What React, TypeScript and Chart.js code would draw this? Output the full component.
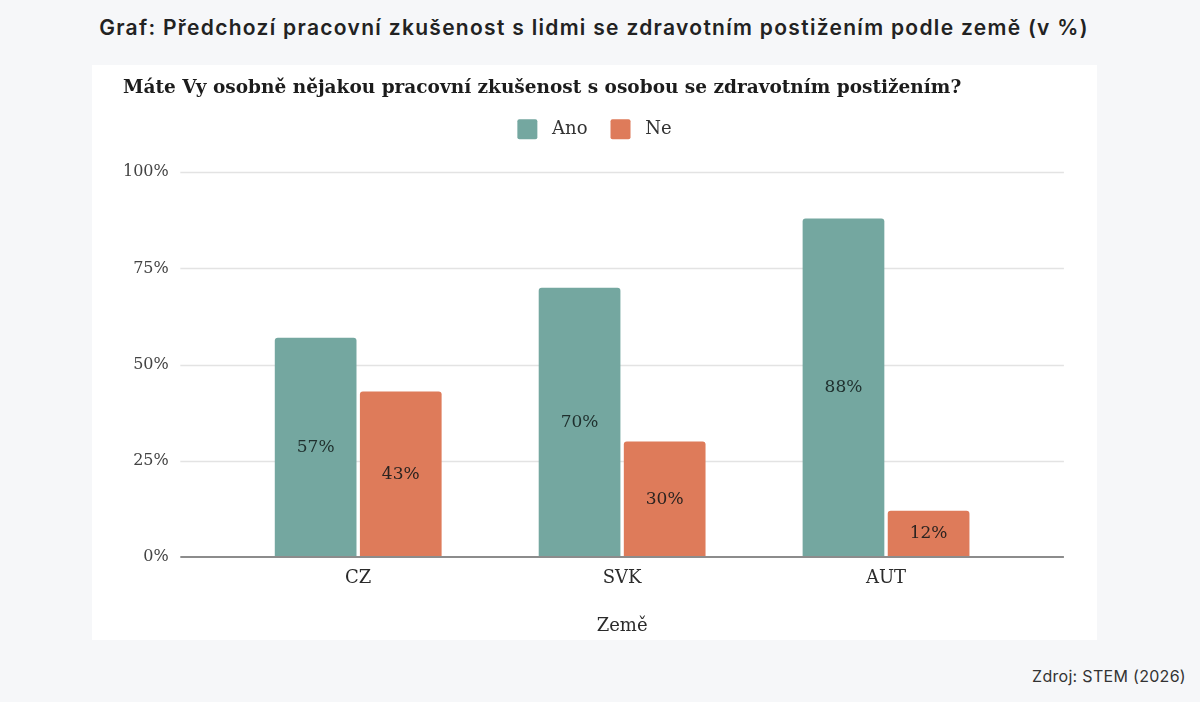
import React, { useEffect, useRef } from "react";
import { Chart, registerables } from "chart.js";

Chart.register(...registerables);

const categories = ["CZ", "SVK", "AUT"];
const seriesNames = ["Ano", "Ne"];
const anoValues = [57, 70, 88];
const neValues = [43, 30, 12];
const yTickValues = [0, 25, 50, 75, 100];
const seriesColors = ["#74a7a0", "#de7b5a"];

const pageTitle = "Graf: Předchozí pracovní zkušenost s lidmi se zdravotním postižením podle země (v %)";
const chartTitle = "Máte Vy osobně nějakou pracovní zkušenost s osobou se zdravotním postižením?";
const xAxisTitle = "Země";
const sourceText = "Zdroj: STEM (2026)";

const SERIF = "'DejaVu Serif', 'Liberation Serif', serif";
const Y_TICK_PADDING = 57.5;
const RIGHT_GUTTER = 48;

const extGridPlugin = {
  id: "extGrid",
  beforeDatasetsDraw(chart: any) {
    const { ctx, chartArea, scales } = chart;
    const y = scales.y;
    const ext = ((chartArea.right - chartArea.left) / categories.length) * 0.174;
    ctx.save();
    ctx.strokeStyle = "#e3e3e3";
    ctx.lineWidth = 1.5;
    y.ticks.forEach((t: any) => {
      if (t.value === 0) return;
      const py = Math.round(y.getPixelForValue(t.value)) + 0.5;
      ctx.beginPath();
      ctx.moveTo(chartArea.left - ext, py);
      ctx.lineTo(chartArea.right + ext, py);
      ctx.stroke();
    });
    ctx.restore();
  },
  afterDatasetsDraw(chart: any) {
    const { ctx, chartArea, scales } = chart;
    const y = scales.y;
    const ext = ((chartArea.right - chartArea.left) / categories.length) * 0.174;
    ctx.save();
    ctx.strokeStyle = "#8c8c8c";
    ctx.lineWidth = 2;
    const py0 = y.getPixelForValue(0);
    ctx.beginPath();
    ctx.moveTo(chartArea.left - ext, py0);
    ctx.lineTo(chartArea.right + ext, py0);
    ctx.stroke();

    ctx.font = `17px ${SERIF}`;
    ctx.textAlign = "center";
    ctx.textBaseline = "middle";
    chart.data.datasets.forEach((ds: any, di: number) => {
      const meta = chart.getDatasetMeta(di);
      meta.data.forEach((bar: any, i: number) => {
        ctx.fillStyle = di === 0 ? "#1f2f2d" : "#2b2320";
        ctx.fillText(`${ds.data[i]}%`, bar.x, (bar.y + bar.base) / 2);
      });
    });
    ctx.restore();
  },
};

function BarChart() {
  const ref = useRef<HTMLCanvasElement | null>(null);
  useEffect(() => {
    if (!ref.current) return;
    const defaultLabels = Chart.defaults.plugins.legend.labels.generateLabels;
    const chart = new Chart(ref.current, {
      type: "bar",
      data: {
        labels: categories,
        datasets: [
          {
            label: seriesNames[0],
            data: anoValues,
            backgroundColor: seriesColors[0],
            borderRadius: { topLeft: 3, topRight: 3, bottomLeft: 0, bottomRight: 0 },
            borderSkipped: false,
            categoryPercentage: 0.645,
            barPercentage: 0.96,
          },
          {
            label: seriesNames[1],
            data: neValues,
            backgroundColor: seriesColors[1],
            borderRadius: { topLeft: 3, topRight: 3, bottomLeft: 0, bottomRight: 0 },
            borderSkipped: false,
            categoryPercentage: 0.645,
            barPercentage: 0.96,
          },
        ],
      },
      options: {
        animation: false,
        responsive: false,
        layout: { padding: { left: 31, right: 31, top: 0, bottom: 1 } },
        plugins: {
          title: {
            display: true,
            text: chartTitle,
            align: "start",
            color: "#1c1c1c",
            font: { family: SERIF, size: 18.5, weight: "bold" },
            padding: { top: 12, bottom: -3 },
          },
          subtitle: {
            display: true,
            text: "",
            weight: 500,
            font: { size: 10 },
            padding: { top: 11, bottom: 0 },
          },
          legend: {
            display: true,
            position: "top",
            align: "center",
            labels: {
              boxWidth: 20,
              boxHeight: 20,
              padding: 23,
              color: "#333",
              font: { family: SERIF, size: 18 },
              useBorderRadius: true,
              borderRadius: 2,
              generateLabels: (c: any) =>
                defaultLabels(c).map((item: any) => ({ ...item, text: " " + item.text })),
            },
          },
          tooltip: { enabled: false },
        },
        scales: {
          x: {
            grid: { display: false, drawTicks: false },
            border: { display: false },
            ticks: { color: "#2b2b2b", font: { family: SERIF, size: 18 }, padding: 11 },
            title: {
              display: true,
              text: xAxisTitle,
              color: "#2b2b2b",
              font: { family: SERIF, size: 18 },
              padding: { top: 14.6, bottom: 2.2 },
            },
          },
          y: {
            min: 0,
            max: 100,
            afterBuildTicks: (scale: any) => {
              scale.ticks = yTickValues.map((v) => ({ value: v }));
            },
            afterFit: (scale: any) => {
              scale.width = scale.width - Y_TICK_PADDING;
            },
            grid: { display: false, drawTicks: false },
            border: { display: false },
            ticks: {
              color: "#444",
              font: { family: SERIF, size: 16 },
              padding: Y_TICK_PADDING,
              callback: (v: any) => `${v}%`,
            },
          },
          yGutter: {
            type: "linear",
            position: "right",
            display: true,
            grid: { display: false, drawTicks: false },
            border: { display: false },
            ticks: { display: false },
            afterFit: (scale: any) => {
              scale.width = RIGHT_GUTTER;
            },
          },
        },
      },
      plugins: [extGridPlugin],
    });
    return () => chart.destroy();
  }, []);
  return <canvas ref={ref} width={1005} height={575} style={{ display: "block" }} />;
}

export default function App() {
  return (
    <div
      style={{
        position: "fixed",
        inset: 0,
        width: 1200,
        height: 702,
        background: "#f6f7f9",
        overflow: "hidden",
      }}
    >
      <div
        style={{
          position: "absolute",
          left: 0,
          top: 16,
          width: 1188,
          textAlign: "center",
          fontFamily: "Inter, 'Noto Sans', sans-serif",
          fontWeight: 600,
          fontSize: 21,
          letterSpacing: "1.3px",
          lineHeight: "24px",
          color: "#222",
          whiteSpace: "nowrap",
        }}
      >
        {pageTitle}
      </div>
      <div
        style={{
          position: "absolute",
          left: 92,
          top: 65,
          width: 1005,
          height: 575,
          background: "#fff",
        }}
      >
        <BarChart />
      </div>
      <div
        style={{
          position: "absolute",
          right: 14,
          top: 667,
          fontFamily: "Inter, 'Noto Sans', sans-serif",
          fontSize: 16,
          letterSpacing: "0.3px",
          lineHeight: "18px",
          color: "#333",
        }}
      >
        {sourceText}
      </div>
    </div>
  );
}
